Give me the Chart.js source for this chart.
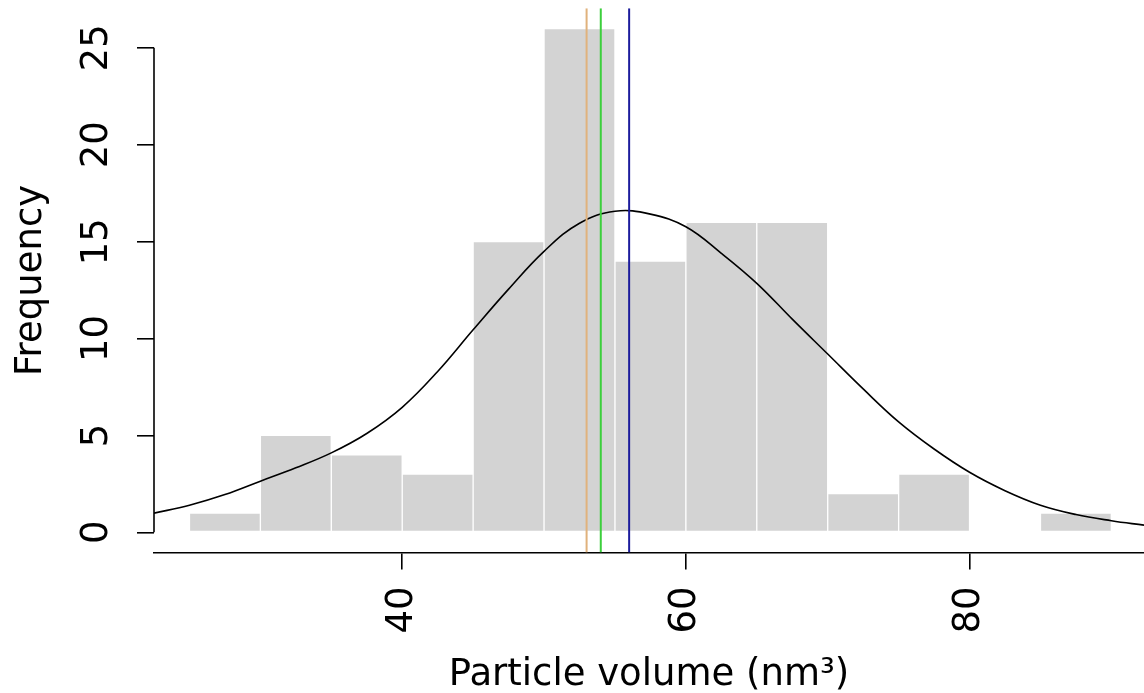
<!DOCTYPE html>
<html>
<head>
<meta charset="utf-8">
<title>Particle volume histogram</title>
<script src="https://cdn.jsdelivr.net/npm/chart.js@4/dist/chart.umd.min.js"></script>
<style>
  html, body { margin: 0; padding: 0; background: #fff; overflow: hidden; }
  #wrap { position: relative; width: 1144px; height: 693px; }
</style>
</head>
<body>
<div id="wrap"><canvas id="hist"></canvas></div>
<script>
// Histogram bins (nm^3) and counts per bin
const binEdges = [25, 30, 35, 40, 45, 50, 55, 60, 65, 70, 75, 80, 85, 90];
const counts = [1, 5, 4, 3, 15, 26, 14, 16, 16, 2, 3, 0, 1];

// Fitted density curve (frequency scale)
const curveX = [22.5, 25, 27.5, 30, 32.5, 35, 37.5, 40, 42.5, 45, 47.5, 50, 52.5, 55, 57.5, 60, 62.5, 65, 67.5, 70, 72.5, 75, 77.5, 80, 82.5, 85, 87.5, 90, 92.3];
const curveY = [0.99, 1.40, 1.95, 2.64, 3.33, 4.10, 5.10, 6.45, 8.30, 10.45, 12.55, 14.50, 15.95, 16.57, 16.42, 15.77, 14.40, 12.85, 11.00, 9.20, 7.40, 5.70, 4.30, 3.10, 2.15, 1.40, 0.92, 0.60, 0.37];

// Vertical reference lines
const markerX = [53.0, 54.0, 56.0];

// Axis ticks
const xTicks = [40, 60, 80];
const yTicks = [0, 5, 10, 15, 20, 25];

const xMin = 22.5, xMax = 92.3;
const yMin = -1.04, yMax = 27.04;

const FONT = 'DejaVu Sans';
Chart.defaults.font.family = FONT;
Chart.defaults.color = '#000';

const bars = counts.map((c, i) => ({ x: (binEdges[i] + binEdges[i + 1]) / 2, y: c }));
const curve = curveX.map((x, i) => ({ x, y: curveY[i] }));
const markerColors = ['#e0b27c', '#3ccf3c', '#1c1c9c'];

function vline(x, color) {
    return {
        type: 'line',
        data: [{ x, y: yMin }, { x, y: yMax }],
        borderColor: color,
        borderWidth: 2,
        pointRadius: 0,
        order: 0
    };
}

// y axis in R style: line only between first and last tick, labels rotated
const rAxisY = {
    id: 'rAxisY',
    afterDraw(chart) {
        const ctx = chart.ctx;
        const y = chart.scales.y;
        const x0 = y.right;
        ctx.save();
        ctx.strokeStyle = '#000';
        ctx.lineWidth = 1.6;
        ctx.beginPath();
        ctx.moveTo(x0, y.getPixelForValue(yTicks[0]));
        ctx.lineTo(x0, y.getPixelForValue(yTicks[yTicks.length - 1]));
        ctx.stroke();

        ctx.fillStyle = '#000';
        ctx.font = `37px "${FONT}"`;
        ctx.textAlign = 'center';
        ctx.textBaseline = 'middle';
        yTicks.forEach(v => {
            ctx.save();
            ctx.translate(97, y.getPixelForValue(v));
            ctx.rotate(-Math.PI / 2);
            ctx.fillText(String(v), 0, 0);
            ctx.restore();
        });
        ctx.restore();
    }
};

new Chart(document.getElementById('hist'), {
    type: 'bar',
    data: {
        datasets: [
            ...markerX.map((x, i) => vline(x, markerColors[i])),
            {
                type: 'line',
                data: curve,
                borderColor: '#000',
                borderWidth: 1.6,
                pointRadius: 0,
                tension: 0.4,
                order: 1
            },
            {
                type: 'bar',
                data: bars,
                backgroundColor: '#d3d3d3',
                borderColor: '#fff',
                borderWidth: 1,
                borderSkipped: false,
                barPercentage: 1,
                categoryPercentage: 1,
                order: 2
            }
        ]
    },
    options: {
        responsive: true,
        maintainAspectRatio: false,
        animation: false,
        layout: { padding: { top: 8.3, left: 0, right: 0, bottom: 0 } },
        plugins: {
            legend: { display: false },
            tooltip: { enabled: false }
        },
        scales: {
            x: {
                type: 'linear',
                min: xMin,
                max: xMax,
                offset: false,
                afterBuildTicks: (s) => { s.ticks = xTicks.map(v => ({ value: v })); },
                afterFit: (s) => { s.height = 140.5; },
                grid: { offset: false, drawOnChartArea: false, color: '#000', lineWidth: 1.6, tickLength: 17 },
                border: { display: true, color: '#000', width: 1.6 },
                ticks: {
                    minRotation: 90,
                    maxRotation: 90,
                    padding: 17,
                    font: { size: 37 },
                    color: '#000'
                },
                title: {
                    display: true,
                    text: 'Particle volume (nm³)',
                    font: { size: 37 },
                    color: '#000',
                    padding: { top: 0, bottom: -5 }
                }
            },
            y: {
                type: 'linear',
                min: yMin,
                max: yMax,
                afterBuildTicks: (s) => { s.ticks = yTicks.map(v => ({ value: v })); },
                afterFit: (s) => { s.width = 154; },
                grid: { drawOnChartArea: false, color: '#000', lineWidth: 1.6, tickLength: 17 },
                border: { display: false },
                ticks: { display: false },
                title: {
                    display: true,
                    text: 'Frequency',
                    font: { size: 37 },
                    color: '#000',
                    padding: { top: 9, bottom: 0 }
                }
            }
        }
    },
    plugins: [rAxisY]
});
</script>
</body>
</html>
